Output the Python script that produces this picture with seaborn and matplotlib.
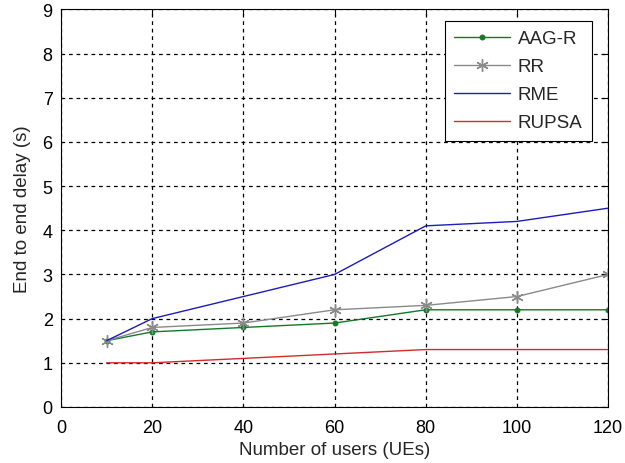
import matplotlib
matplotlib.use("Agg")
import matplotlib.pyplot as plt
import seaborn as sns
import pandas as pd

users = [10, 20, 40, 60, 80, 100, 120]
aag_r = [1.5, 1.7, 1.8, 1.9, 2.2, 2.2, 2.2]
rr = [1.5, 1.8, 1.9, 2.2, 2.3, 2.5, 3.0]
rme = [1.5, 2.0, 2.5, 3.0, 4.1, 4.2, 4.5]
rupsa = [1.0, 1.0, 1.1, 1.2, 1.3, 1.3, 1.3]

series = ["AAG-R", "RR", "RME", "RUPSA"]
values = [aag_r, rr, rme, rupsa]
df = pd.DataFrame({
    "users": users * len(series),
    "delay": sum(values, []),
    "scheme": sum([[s] * len(users) for s in series], []),
})

sns.set_theme(style="white")
plt.rcParams["font.family"] = ["Liberation Sans", "DejaVu Sans"]

fig = plt.figure(figsize=(6.25, 4.64), dpi=100)
ax = fig.add_axes([0.0976, 0.1207, 0.8754, 0.857])

palette = {"AAG-R": "#107a28", "RR": "#8a8a8a", "RME": "#1c1cc0", "RUPSA": "#d42a2a"}
styles = {
    "AAG-R": dict(marker="o", markersize=3.5),
    "RR": dict(marker=(6, 2, 0), markersize=9, markeredgewidth=1.0),
    "RME": dict(),
    "RUPSA": dict(),
}

for s in series:
    sub = df[df["scheme"] == s]
    sns.lineplot(data=sub, x="users", y="delay", ax=ax, color=palette[s],
                 markeredgecolor=palette[s], linewidth=1.0, label=s,
                 **styles[s])

ax.set_xlim(0, 120)
ax.set_ylim(0, 9)
ax.set_xticks(range(0, 121, 20))
ax.set_yticks(range(0, 10))
ax.grid(True, color="black", linestyle=(0, (3, 3)), linewidth=0.9)
ax.tick_params(axis="both", direction="in", top=True, right=True, length=4,
               width=0.8, labelsize=13, colors="black")
ax.tick_params(axis="x", pad=8.5)
ax.tick_params(axis="y", pad=6)
for sp in ax.spines.values():
    sp.set_color("black")
    sp.set_linewidth(0.8)
ax.set_xlabel("Number of users (UEs)", fontsize=13.5, labelpad=4)
ax.set_ylabel("End to end delay (s)", fontsize=13.5, labelpad=8)

leg = ax.legend(loc="upper right", bbox_to_anchor=(592 / 625, 1 - 22 / 464),
                bbox_transform=fig.transFigure, borderaxespad=0,
                fontsize=13.5, frameon=True, fancybox=False,
                edgecolor="black", framealpha=1, borderpad=0.5,
                handlelength=3.0, handletextpad=0.4, labelspacing=0.58)
leg.get_frame().set_linewidth(0.8)

fig.savefig("out.png", dpi=100)
